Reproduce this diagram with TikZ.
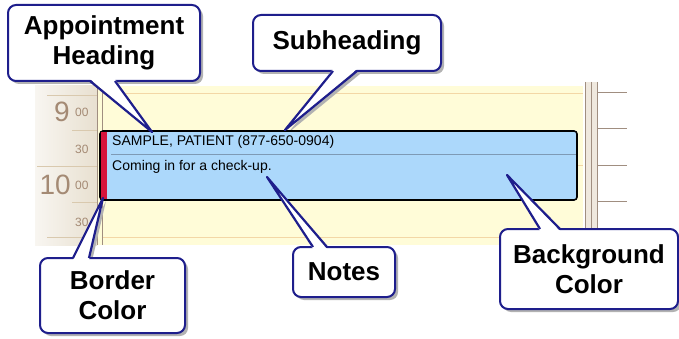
\documentclass[tikz,border=0pt]{standalone}
\usepackage{fontspec}
\setmainfont{Liberation Sans}
\usetikzlibrary{shadows}
\pgfdeclarelayer{background}
\pgfdeclarelayer{shade}
\pgfsetlayers{background,shade,main}
\definecolor{callblue}{HTML}{1E1E8C}
\definecolor{calyellow}{HTML}{FFFCD8}
\definecolor{hourline}{HTML}{F3D7A6}
\definecolor{timebg}{HTML}{E8E0D0}
\definecolor{timeline}{HTML}{D9C9AE}
\definecolor{timetext}{HTML}{A48A74}
\definecolor{vline}{HTML}{A08E80}
\definecolor{stripbg}{HTML}{EFE8DE}
\definecolor{apptblue}{HTML}{ACD8FB}
\definecolor{apptred}{HTML}{D6143C}
\definecolor{septline}{HTML}{7E9AB5}
\tikzset{
  callbox/.style={draw=callblue, line width=2pt, fill=white, rounded corners=8pt,
    outer sep=0pt, inner sep=0pt, align=center,
    font=\bfseries\fontsize{26}{30}\selectfont,
    drop shadow={shadow xshift=3pt, shadow yshift=-3pt, opacity=1, fill=black!30}},
  ptrfill/.style={fill=white},
  ptrline/.style={draw=callblue, line width=2.2pt, line join=round},
  ptrshadow/.style={fill=black!30, transform canvas={xshift=3pt, yshift=-3pt}},
  hour/.style={font=\fontsize{28}{28}\selectfont, text=timetext, inner sep=0pt},
  minute/.style={font=\fontsize{12}{12}\selectfont, text=timetext, inner sep=0pt, anchor=west},
  apptbox/.style={draw=black, line width=1.6pt, fill=apptblue, rounded corners=3pt,
    minimum width=477pt, minimum height=69pt, inner sep=0pt, outer sep=0pt},
  appttext/.style={font=\fontsize{14}{14}\selectfont, inner sep=0pt, anchor=base west}
}
\begin{document}
\begin{tikzpicture}[x=1pt,y=-1pt]
\useasboundingbox (0,0) rectangle (679,339);
\begin{pgfonlayer}{background}
\fill[white] (0,0) rectangle (679,339);
\shade[left color=timebg!30, right color=timebg] (35,86) rectangle (97,245);
\fill[calyellow] (97,86) rectangle (583,245);
\fill[stripbg] (585,82) rectangle (597,245);
\draw[timeline] (47,95) -- (97,95);
\draw[timeline] (72,130) -- (97,130);
\draw[timeline] (37,166) -- (97,166);
\draw[timeline] (72,202) -- (97,202);
\draw[timeline] (47,237) -- (97,237);
\draw[hourline] (102,93) -- (583,93);
\draw[hourline] (102,165) -- (583,165);
\draw[hourline] (102,237) -- (583,237);
\draw[vline] (97,86) -- (97,245);
\draw[vline] (102,86) -- (102,245);
\draw[vline] (585,82) -- (585,245);
\draw[vline] (591,82) -- (591,245);
\draw[vline] (597,82) -- (597,245);
\draw[vline] (597,92) -- (627,92);
\draw[vline] (597,128) -- (627,128);
\draw[vline] (597,165) -- (627,165);
\draw[vline] (597,201) -- (627,201);
\end{pgfonlayer}

\node[hour, anchor=east] (h9) at (70,112) {9};
\node[minute] (m900) at (75,112) {00};
\node[minute] (m930) at (75,149) {30};
\node[hour, anchor=east] (h10) at (71,185) {10};
\node[minute] (m1000) at (75,185) {00};
\node[minute] (m1030) at (75,222) {30};

\node[apptbox] (appt) at (338.5,165.5) {};
\fill[apptred] ([shift={(1,1)}]appt.north west) rectangle ([shift={(7,-1)}]appt.south west);
\draw[septline] (111,154) -- (576,154);
\node[appttext] (subhead) at (112,146) {SAMPLE, PATIENT (877-650-0904)};
\node[appttext] (notetext) at (112,171) {Coming in for a check-up.};

\coordinate (headtip) at (152,132);
\coordinate (subtip) at (285,130);
\coordinate (bordertip) at (103,198);
\coordinate (notetip) at (267,177);
\coordinate (bgtip) at (507,175);

\node[callbox, minimum width=192pt, minimum height=76pt] (headcall) at (104,43) {Appointment\\Heading};
\node[callbox, minimum width=188pt, minimum height=56pt] (subcall) at (347,43) {Subheading};
\node[callbox, minimum width=145pt, minimum height=75pt] (bordercall) at (112.5,295.5) {Border\\Color};
\node[callbox, minimum width=102pt, minimum height=50pt] (notecall) at (344,272) {Notes};
\node[callbox, minimum width=178pt, minimum height=80pt] (bgcall) at (589,269) {Background\\Color};

\begin{pgfonlayer}{shade}
\fill[ptrshadow] ([shift={(-14,0)}]headcall.south) -- (headtip) -- ([shift={(11,0)}]headcall.south) -- cycle;
\fill[ptrshadow] ([shift={(-14,0)}]subcall.south) -- (subtip) -- ([shift={(10,0)}]subcall.south) -- cycle;
\fill[ptrshadow] ([shift={(-39.5,0)}]bordercall.north) -- (bordertip) -- ([shift={(-23.5,0)}]bordercall.north) -- cycle;
\fill[ptrshadow] ([shift={(-31,0)}]notecall.north) -- (notetip) -- ([shift={(-17,0)}]notecall.north) -- cycle;
\fill[ptrshadow] ([shift={(-49,0)}]bgcall.north) -- (bgtip) -- ([shift={(-29,0)}]bgcall.north) -- cycle;
\end{pgfonlayer}

\fill[ptrfill] ([shift={(-14,-2)}]headcall.south) -- (headtip) -- ([shift={(11,-2)}]headcall.south) -- cycle;
\draw[ptrline] ([shift={(-14,0)}]headcall.south) -- (headtip) -- ([shift={(11,0)}]headcall.south);
\fill[ptrfill] ([shift={(-14,-2)}]subcall.south) -- (subtip) -- ([shift={(10,-2)}]subcall.south) -- cycle;
\draw[ptrline] ([shift={(-14,0)}]subcall.south) -- (subtip) -- ([shift={(10,0)}]subcall.south);
\fill[ptrfill] ([shift={(-39.5,2)}]bordercall.north) -- (bordertip) -- ([shift={(-23.5,2)}]bordercall.north) -- cycle;
\draw[ptrline] ([shift={(-39.5,0)}]bordercall.north) -- (bordertip) -- ([shift={(-23.5,0)}]bordercall.north);
\fill[ptrfill] ([shift={(-31,2)}]notecall.north) -- (notetip) -- ([shift={(-17,2)}]notecall.north) -- cycle;
\draw[ptrline] ([shift={(-31,0)}]notecall.north) -- (notetip) -- ([shift={(-17,0)}]notecall.north);
\fill[ptrfill] ([shift={(-49,2)}]bgcall.north) -- (bgtip) -- ([shift={(-29,2)}]bgcall.north) -- cycle;
\draw[ptrline] ([shift={(-49,0)}]bgcall.north) -- (bgtip) -- ([shift={(-29,0)}]bgcall.north);
\end{tikzpicture}
\end{document}
